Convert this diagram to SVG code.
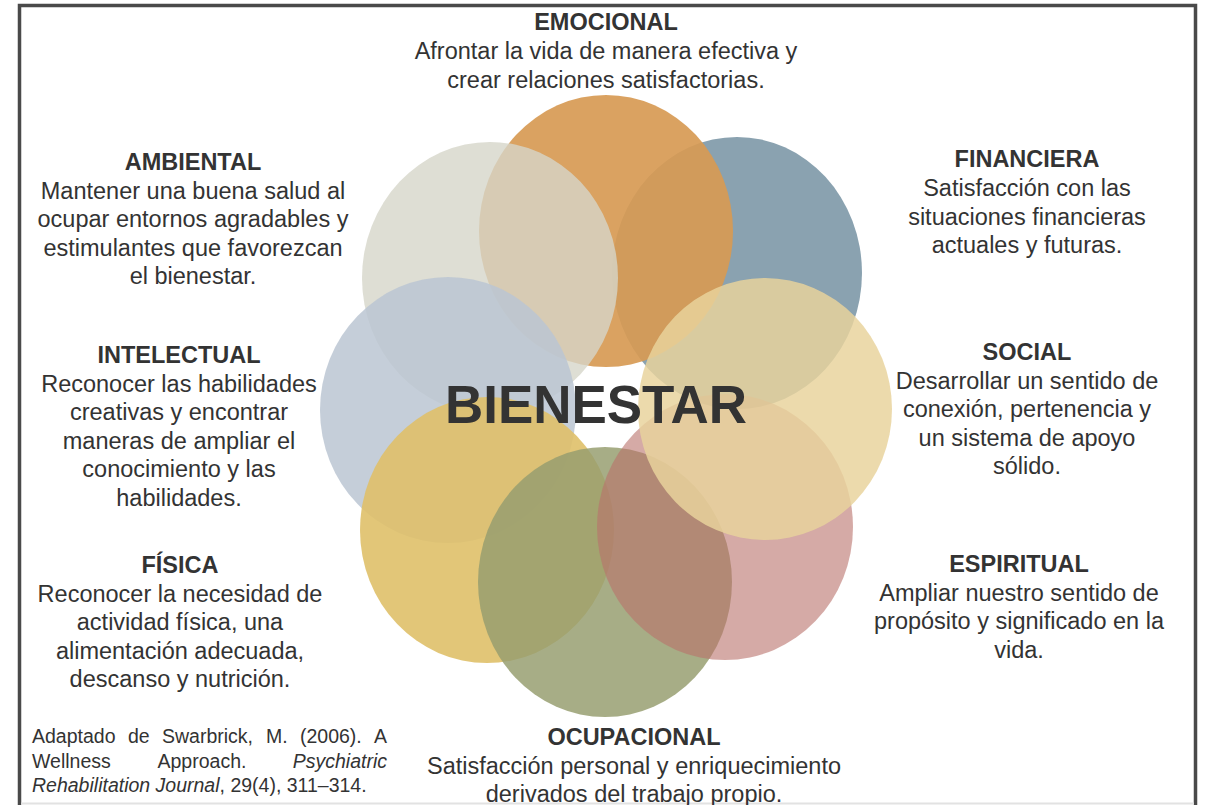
<svg xmlns="http://www.w3.org/2000/svg" width="1207" height="805" viewBox="0 0 1207 805">
<style>
.t{font-family:"Liberation Sans",Arial,sans-serif;font-size:23.5px;fill:#333;text-anchor:middle}
.h{font-weight:bold}
.c{font-family:"Liberation Sans",Arial,sans-serif;font-size:19.5px;fill:#333}
.i{font-style:italic}
</style>
<rect x="0" y="0" width="1207" height="805" fill="#fff"/>
<g id="frame">
<path d="M19.5 808 V5.5 H1195.5 V808" fill="none" stroke="#4a4a4a" stroke-width="3.5"/>
<line x1="21" y1="803.5" x2="1194" y2="803.5" stroke="#e2e2e2" stroke-width="2"/>
</g>

<g id="financiera">
<ellipse cx="737" cy="273" rx="125" ry="136" fill="#8AA2B0"/>
<text class="t h" x="1027" y="167">FINANCIERA</text>
<text class="t" x="1027" y="196">Satisfacción con las</text>
<text class="t" x="1027" y="224.5">situaciones financieras</text>
<text class="t" x="1027" y="253">actuales y futuras.</text>
</g>

<g id="emocional">
<ellipse cx="606" cy="231" rx="127" ry="136" fill="#D79A54" opacity="0.92"/>
<text class="t h" x="606" y="30">EMOCIONAL</text>
<text class="t" x="606" y="59">Afrontar la vida de manera efectiva y</text>
<text class="t" x="606" y="87.5">crear relaciones satisfactorias.</text>
</g>

<g id="ambiental">
<ellipse cx="490" cy="278" rx="128" ry="136" fill="#D6D6C9" opacity="0.8"/>
<text class="t h" x="193" y="170">AMBIENTAL</text>
<text class="t" x="193" y="198.6">Mantener una buena salud al</text>
<text class="t" x="193" y="227.2">ocupar entornos agradables y</text>
<text class="t" x="193" y="255.8">estimulantes que favorezcan</text>
<text class="t" x="193" y="284.4">el bienestar.</text>
</g>

<g id="intelectual">
<ellipse cx="448" cy="410" rx="128" ry="133" fill="#BBC6D2" opacity="0.85"/>
<text class="t h" x="179" y="363">INTELECTUAL</text>
<text class="t" x="179" y="391.5">Reconocer las habilidades</text>
<text class="t" x="179" y="420">creativas y encontrar</text>
<text class="t" x="179" y="448.5">maneras de ampliar el</text>
<text class="t" x="179" y="477">conocimiento y las</text>
<text class="t" x="179" y="505.5">habilidades.</text>
</g>

<g id="fisica">
<ellipse cx="487" cy="530" rx="127" ry="133" fill="#DFC069" opacity="0.9"/>
<text class="t h" x="180" y="573">FÍSICA</text>
<text class="t" x="180" y="601.5">Reconocer la necesidad de</text>
<text class="t" x="180" y="630">actividad física, una</text>
<text class="t" x="180" y="658.5">alimentación adecuada,</text>
<text class="t" x="180" y="687">descanso y nutrición.</text>
</g>

<g id="ocupacional">
<ellipse cx="605" cy="582" rx="127" ry="135" fill="#969D6F" opacity="0.84"/>
<text class="t h" x="634" y="745">OCUPACIONAL</text>
<text class="t" x="634" y="773.5">Satisfacción personal y enriquecimiento</text>
<text class="t" x="634" y="802">derivados del trabajo propio.</text>
</g>

<g id="espiritual">
<ellipse cx="725" cy="527" rx="128" ry="133" fill="#B9716B" opacity="0.6"/>
<text class="t h" x="1019" y="572">ESPIRITUAL</text>
<text class="t" x="1019" y="600.5">Ampliar nuestro sentido de</text>
<text class="t" x="1019" y="629">propósito y significado en la</text>
<text class="t" x="1019" y="657.5">vida.</text>
</g>

<g id="social">
<ellipse cx="765" cy="409" rx="127" ry="131" fill="#E8D39C" opacity="0.84"/>
<text class="t h" x="1027" y="360">SOCIAL</text>
<text class="t" x="1027" y="388.5">Desarrollar un sentido de</text>
<text class="t" x="1027" y="417">conexión, pertenencia y</text>
<text class="t" x="1027" y="445.5">un sistema de apoyo</text>
<text class="t" x="1027" y="474">sólido.</text>
</g>

<g id="bienestar">
<text class="t h" x="596" y="423" font-size="54" style="font-size:54px" textLength="302" lengthAdjust="spacingAndGlyphs">BIENESTAR</text>
</g>

<g id="cita">
<text class="c" y="743"><tspan x="32">Adaptado</tspan><tspan x="128">de</tspan><tspan x="162">Swarbrick,</tspan><tspan x="266">M.</tspan><tspan x="300">(2006).</tspan><tspan x="374">A</tspan></text>
<text class="c" y="768"><tspan x="32">Wellness</tspan><tspan x="157.5">Approach.</tspan></text>
<text class="c i" x="387" y="768" text-anchor="end">Psychiatric</text>
<text class="c" x="32" y="792"><tspan class="i">Rehabilitation Journal</tspan>, 29(4), 311–314.</text>
</g>
</svg>
